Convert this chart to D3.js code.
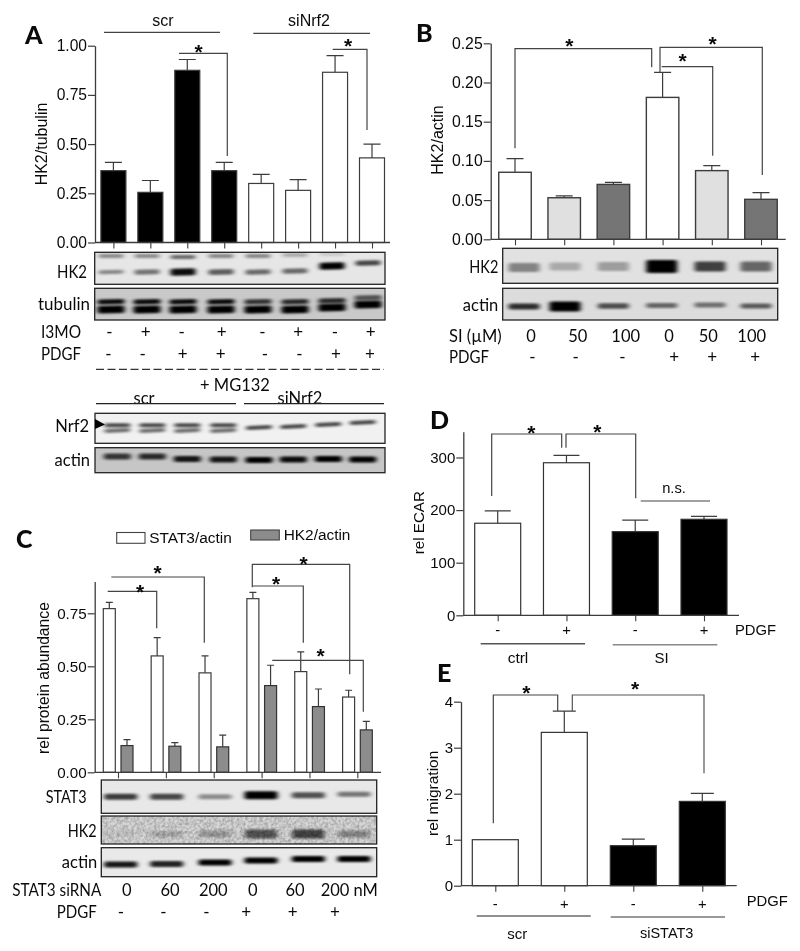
<!DOCTYPE html>
<html><head><meta charset="utf-8">
<script src="https://cdn.jsdelivr.net/npm/d3@7"></script>
<style>
html,body{margin:0;padding:0;background:#fff}
svg{display:block;filter:blur(0.3px)}
.sans{font-family:"Liberation Sans",Arial,sans-serif;fill:#0a0a0a}
.cal{font-family:Lato,"Open Sans",sans-serif;fill:#0a0a0a}
</style></head><body><svg id="c" width="800" height="951"></svg>
<script>
// ---------- DATA ----------
const groupsA = ["scr","scr","scr","scr","siNrf2","siNrf2","siNrf2","siNrf2"];
const valuesA = [0.365,0.255,0.875,0.365,0.30,0.265,0.865,0.43];
const errTopA = [0.407,0.315,0.93,0.407,0.346,0.319,0.95,0.50];
const ticksA  = [0,0.25,0.5,0.75,1];
const i3mo    = ["-","+","-","+","-","+","-","+"];
const pdgfA   = ["-","-","+","+","-","-","+","+"];

const siB     = ["0","50","100","0","50","100"];
const pdgfB   = ["-","-","-","+","+","+"];
const valuesB = [0.0855,0.053,0.070,0.181,0.0876,0.051];
const errTopB = [0.103,0.0553,0.0727,0.213,0.094,0.0595];
const ticksB  = [0,0.05,0.1,0.15,0.2,0.25];

const siC     = ["0","60","200","0","60","200 nM"];
const pdgfC   = ["-","-","-","+","+","+"];
const stat3   = [0.772,0.549,0.469,0.819,0.475,0.355];
const stat3Err= [0.802,0.635,0.549,0.849,0.568,0.387];
const hk2C    = [0.126,0.123,0.12,0.409,0.31,0.20];
const hk2CErr = [0.154,0.14,0.175,0.505,0.393,0.24];
const ticksC  = [0,0.25,0.5,0.75];

const pdgfD   = ["-","+","-","+"];
const valuesD = [175,290,159,182.5];
const errTopD = [198.5,304,181,188];
const ticksD  = [0,100,200,300];

const pdgfE   = ["-","+","-","+"];
const valuesE = [1,3.333,0.87,1.833];
const errTopE = [1,3.797,1.014,2.007];
const ticksE  = [0,1,2,3,4];

// blot band intensities (0..1)
const blotA_HK2up  = [.4,.4,.55,.42,.42,.25,.12,0];
const blotA_HK2lo  = [.42,.5,.95,.6,.55,.55,1,.7];
const blotA_TubUp  = [.95,.95,.95,.95,.75,.8,.8,.6];
const blotA_TubLo  = [1,1,1,1,1,1,1,1];
const blotA_Nrf2up = [.7,.7,.7,.7,0,0,0,0];
const blotA_Nrf2lo = [.55,.55,.55,.55,.7,.7,.7,.7];
const blotA_Actin  = [.75,.8,.9,.9,1,.95,1,1];
const blotB_HK2    = [.42,.25,.3,1,.72,.55];
const blotB_Actin  = [.8,1,.65,.55,.5,.6];
const blotC_STAT3  = [.75,.7,.4,1,.65,.5];
const blotC_HK2    = [.06,.2,.26,.6,.68,.35];
const blotC_Actin  = [.9,.85,1,1,1,1];

// ---------- HELPERS ----------
const svg = d3.select("#c");
const STROKE = "#3c3c3c";
const defs = svg.append("defs");
defs.append("filter").attr("id","bl").attr("x","-20%").attr("y","-200%").attr("width","140%").attr("height","500%")
  .append("feGaussianBlur").attr("stdDeviation","2.5 1.25");
const gr = defs.append("filter").attr("id","grain").attr("x",0).attr("y",0).attr("width","100%").attr("height","100%");
gr.append("feTurbulence").attr("type","fractalNoise").attr("baseFrequency",.35).attr("numOctaves",2).attr("seed",4);
gr.append("feColorMatrix").attr("values","0 0 0 0 0  0 0 0 0 0  0 0 0 0 0  1.3 0 0 0 -.45");

function txt(x,y,s,o={}){
  const t = svg.append("text").attr("class",o.cls||"sans").attr("x",x).attr("y",y).attr("dy",o.dy===undefined?".35em":o.dy)
    .attr("text-anchor",o.a||"middle").attr("font-size",o.fs||15)
    .attr("font-weight",o.w||"normal").text(s);
  if(o.len) t.attr("textLength",o.len).attr("lengthAdjust","spacingAndGlyphs");
  return t;
}
function vtxt(x,y,s,fs){
  return svg.append("text").attr("class","sans").attr("transform",`translate(${x},${y}) rotate(-90)`)
    .attr("text-anchor","middle").attr("dy",".35em").attr("font-size",fs||15.5).text(s);
}
function letter(x,y,s){ txt(x,y,s,{cls:"cal",a:"start",fs:25,w:"900",dy:0}); }
function star(x,y){ txt(x,y+12,"*",{fs:21,w:"bold",dy:0}); }
const lineGen = d3.line();
function poly(pts,c,w){ svg.append("path").attr("d",lineGen(pts)).attr("fill","none").attr("stroke",c||"#444").attr("stroke-width",w||1.2); }
function axes(xs,ys,x0,x1,yt,fmt,fs){
  const gy = svg.append("g").attr("transform",`translate(${x0},0)`)
    .call(d3.axisLeft(ys).tickValues(yt).tickFormat(fmt).tickSize(7).tickSizeOuter(0));
  gy.selectAll("text").attr("class","sans").attr("font-size",fs).attr("x",-8);
  gy.select(".domain").attr("stroke",STROKE).attr("stroke-width",1.3);
  gy.selectAll("line").attr("stroke",STROKE).attr("stroke-width",1.2);
  const base = ys.range()[0];
  poly([[x0,base],[x1,base]],STROKE,1.3);
  const gx = svg.append("g").attr("transform",`translate(0,${base})`)
    .call(d3.axisBottom(xs).tickFormat("").tickSize(6).tickSizeOuter(0));
  gx.select(".domain").remove();
  gx.selectAll("line").attr("stroke",STROKE).attr("stroke-width",1.1);
}
function bars(vals,tops,xf,ys,w,fill,stroke,sw,capW){
  const base = ys.range()[0];
  const g = svg.append("g");
  const rows = vals.map((v,i)=>({i,v,t:tops[i]}));
  g.selectAll("path.e").data(rows.filter(d=>d.t>d.v)).join("path").attr("class","e")
    .attr("d",d=>lineGen([[xf(d.i),ys(d.v)],[xf(d.i),ys(d.t)]])+lineGen([[xf(d.i)-capW/2,ys(d.t)],[xf(d.i)+capW/2,ys(d.t)]]))
    .attr("fill","none").attr("stroke",STROKE).attr("stroke-width",1.2);
  g.selectAll("rect").data(rows).join("rect")
    .attr("x",d=>xf(d.i)-w/2).attr("width",w).attr("y",d=>ys(d.v)).attr("height",d=>base-ys(d.v))
    .attr("fill",d=>fill(d.i)).attr("stroke",d=>stroke?stroke:"#3c3c3c").attr("stroke-width",sw);
}
let clipN = 0;
function blot(o){
  const g = svg.append("g");
  const id = "clip"+(clipN++);
  defs.append("clipPath").attr("id",id).append("rect").attr("x",o.x0).attr("y",o.y0).attr("width",o.x1-o.x0).attr("height",o.y1-o.y0);
  g.append("rect").attr("x",o.x0).attr("y",o.y0).attr("width",o.x1-o.x0).attr("height",o.y1-o.y0).attr("fill",o.bg);
  const inner = g.append("g").attr("clip-path",`url(#${id})`);
  if(o.grain) inner.append("rect").attr("x",o.x0).attr("y",o.y0).attr("width",o.x1-o.x0).attr("height",o.y1-o.y0).attr("filter","url(#grain)").attr("opacity",.22);
  o.bands.forEach(b=>{
    const grp = inner.append("g").attr("filter","url(#bl)");
    grp.selectAll("rect").data(b.v.map((v,i)=>({v,i})).filter(d=>d.v>0)).join("rect")
      .attr("x",d=>o.lanes[d.i]-(b.w||o.w)/2).attr("width",b.w||o.w)
      .attr("y",d=>b.y+(b.off?b.off[d.i]:0)-(b.hs?b.hs[d.i]:b.h)/2)
      .attr("height",d=>b.hs?b.hs[d.i]:b.h).attr("rx",2)
      .attr("transform",d=>b.tilt?`rotate(${b.tilt},${o.lanes[d.i]},${b.y+(b.off?b.off[d.i]:0)})`:null)
      .attr("fill","#000").attr("opacity",d=>d.v);
  });
  if(o.grain) inner.append("rect").attr("x",o.x0).attr("y",o.y0).attr("width",o.x1-o.x0).attr("height",o.y1-o.y0).attr("filter","url(#grain)").attr("opacity",.2);
  g.append("rect").attr("x",o.x0).attr("y",o.y0).attr("width",o.x1-o.x0).attr("height",o.y1-o.y0)
    .attr("fill","none").attr("stroke","#222").attr("stroke-width",1.3);
}
const cal = (x,y,s,a,fs,len)=>txt(x,y,s,{cls:"cal",a:a||"middle",fs:fs||16.5,len});
const signs = (arr,xs,y,o)=>arr.forEach((s,i)=>txt(xs[i],y,s,o||{cls:"cal",fs:17}));

// ---------- PANEL A ----------
{
  const xs = d3.scalePoint().domain(d3.range(8)).range([113.4,372]);
  const ys = d3.scaleLinear().domain([0,1]).range([242.5,45.7]);
  bars(valuesA,errTopA,xs,ys,25,i=>groupsA[i]==="scr"?"#000":"#fff",null,1.2,17);
  axes(xs,ys,95,390,ticksA,d3.format(".2f"),15.6);
  vtxt(41,144,"HK2/tubulin",16);
  letter(25,44,"A");
  txt(163,20.7,"scr",{fs:16}); txt(309,20.7,"siNrf2",{fs:16});
  poly([[104,32.3],[220,32.3]]); poly([[253.3,33.3],[370,33.3]]);
  poly([[179,53.3],[227.3,53.3],[227.3,156]]); star(198.7,47.3);
  poly([[332.7,49.3],[367,49.3],[367,130]]); star(348,41);

  const lanes1=[111,147,183,221,258,295,332,368];
  blot({x0:94.7,x1:385,y0:252.3,y1:284.3,bg:"#e6e6e6",lanes:lanes1,w:25,bands:[
    {y:256,h:4,v:blotA_HK2up,off:[0,0,1,0,0,-1,-2,0]},
    {y:272,hs:[4,5,7,5.5,5,5,7,5],v:blotA_HK2lo,off:[0,0,0,0,0,-1,-6,-9],tilt:-1}]});
  blot({x0:94.7,x1:385,y0:288.3,y1:320,bg:"#c9c9c9",lanes:lanes1,w:27,bands:[
    {y:301.7,h:5,v:blotA_TubUp,off:[0,0,0,0,0,0,-1,-4],tilt:-1},
    {y:309.5,h:7.5,v:blotA_TubLo,off:[0,0,0,0,0,0,-2,-5],tilt:-1}]});
  cal(87,272,"HK2","end",16.5,30); cal(90,304,"tubulin","end",17,52);
  cal(41,332,"I3MO","start",16.5,40); cal(41,354,"PDGF","start",16.5,40);
  signs(i3mo,[109.3,145.7,181.7,221.7,262.3,298.3,335,370.7],332);
  signs(pdgfA,[108.3,142.7,182.7,220.7,265,299.3,336,370],354);
  svg.append("line").attr("x1",96).attr("x2",384).attr("y1",369.3).attr("y2",369.3)
    .attr("stroke","#333").attr("stroke-width",1.2).attr("stroke-dasharray","8 3.5");
  cal(235,385.7,"+ MG132","middle",16.5);
  cal(144,398,"scr"); cal(300,398,"siNrf2");
  poly([[96,403.7],[236,403.7]],"#222",1.3); poly([[244,403.7],[384,403.7]],"#222",1.3);
  const lanes2=[117.3,152.3,187.3,223.3,259,293.3,328.3,362.7];
  blot({x0:95,x1:385,y0:413.3,y1:443.3,bg:"#f1f1f1",lanes:lanes2,w:26,bands:[
    {y:425.3,h:4,v:blotA_Nrf2up},
    {y:430.5,h:4,v:blotA_Nrf2lo,off:[0,0,0,0,-3,-4,-6,-8],tilt:-3}]});
  svg.append("path").attr("d",lineGen([[95,419],[105,424.5],[95,429]])+"Z").attr("fill","#000");
  blot({x0:95,x1:385,y0:447.7,y1:472.7,bg:"#c6c6c6",lanes:lanes2,w:27,bands:[
    {y:459.5,h:6,v:blotA_Actin,off:[-3,-3,-.5,0,.5,0,-.5,0]}]});
  cal(89,426,"Nrf2","end",16.5); cal(90,460,"actin","end",16.5);
}

// ---------- PANEL B ----------
{
  const xs = d3.scalePoint().domain(d3.range(6)).range([515,761]);
  const ys = d3.scaleLinear().domain([0,.25]).range([239.3,43.3]);
  const fills=["#fff","#e0e0e0","#757575"];
  bars(valuesB,errTopB,xs,ys,32.5,i=>fills[i%3],"#3c3c3c",1.4,17);
  axes(xs,ys,490.7,785.7,ticksB,d3.format(".2f"),15.8);
  vtxt(437,140,"HK2/actin",16);
  letter(416,42,"B");
  poly([[515,148.3],[515,48.7],[651.7,48.7],[651.7,67.3]]); star(569.3,41);
  poly([[660,72.3],[660,47.3],[762.3,47.3],[762.3,175]]); star(712.7,39);
  poly([[661.7,66.7],[712.7,66.7],[712.7,155.7]]); star(682.7,55.7);
  const lanes=[524,565,613.3,661.7,710,756];
  blot({x0:502.7,x1:777.7,y0:248.3,y1:283.3,bg:"#e1e1e1",lanes,w:31,bands:[
    {y:266.5,hs:[9,8,9,13,10,10],v:blotB_HK2,off:[1,0,0,0,0,0]}]});
  blot({x0:502.7,x1:777.7,y0:288.3,y1:320,bg:"#dcdcdc",lanes,w:31,bands:[
    {y:306,hs:[6,10,5.5,5,5,5],v:blotB_Actin,off:[.5,.5,0,-.5,-1,0]}]});
  cal(498.3,267,"HK2","end",16.5,29); cal(498.3,305,"actin","end",16.5);
  cal(449,336,"SI (µM)","start",16.5); cal(449,357.3,"PDGF","start",16.5,40);
  signs(siB,[531,577.7,625.7,669,708.3,751.7],336,{cls:"cal",fs:16.5});
  signs(pdgfB,[532.3,575.7,622.3,674.3,712.3,755.3],357.3);
}

// ---------- PANEL C ----------
{
  const xs = d3.scalePoint().domain(d3.range(6)).range([118,357.3]);
  const ys = d3.scaleLinear().domain([0,.9]).range([772.3,581.5]);
  const W = i=>xs(i)-8.7, G = i=>xs(i)+9;
  bars(stat3,stat3Err,W,ys,12,()=>"#fff","#3c3c3c",1.2,7);
  bars(hk2C,hk2CErr,G,ys,12,()=>"#8c8c8c","#333",1.2,7);
  axes(xs,ys,94.7,381,ticksC,d3.format(".2f"),15.2);
  vtxt(43.3,678,"rel protein abundance",15.7);
  letter(16,548,"C");
  svg.append("rect").attr("x",116.7).attr("y",532.5).attr("width",28.3).attr("height",10.8).attr("fill","#fff").attr("stroke","#444").attr("stroke-width",1.1);
  txt(149.3,537.8,"STAT3/actin",{a:"start",fs:15.4});
  svg.append("rect").attr("x",250.7).attr("y",530).attr("width",28.6).attr("height",10).attr("fill","#8c8c8c").attr("stroke","#444").attr("stroke-width",1.1);
  txt(283.7,535,"HK2/actin",{a:"start",fs:15.4});
  poly([[107.7,591.3],[156.7,591.3],[156.7,628.3]]); star(140,586.7);
  poly([[111.3,577],[204.3,577],[204.3,642.7]]); star(157.7,568.3);
  poly([[252.3,587.3],[252.3,564.3],[349.7,564.3],[349.7,674.3]]); star(303.7,559);
  poly([[252.3,586],[303.3,586],[303.3,642.7]]); star(276,579);
  poly([[272.3,660.3],[363.3,660.3],[363.3,711.7]]); star(320.7,651);
  const lanes=[120.7,166.7,215,261,308.3,354];
  blot({x0:101.3,x1:376.7,y0:780,y1:813.3,bg:"#e8e8e8",lanes,w:33,bands:[
    {y:796.7,hs:[6,6,5,8,6,5],v:blotC_STAT3,off:[0,0,0,-1.5,-1.5,-2.5]}]});
  blot({x0:101.3,x1:376.7,y0:816,y1:844,bg:"#d6d6d6",lanes,w:32,grain:true,bands:[
    {y:834,hs:[6,6,7,9,9,7],v:blotC_HK2}]});
  blot({x0:101.3,x1:376.7,y0:847.7,y1:876.7,bg:"#e9e9e9",lanes,w:33,bands:[
    {y:864.5,h:6,v:blotC_Actin,off:[0,-.5,-2,-4,-5.5,-5.5]}]});
  cal(86.7,797,"STAT3","end",16.5,41); cal(96.7,831,"HK2","end",16.5,29); cal(97.3,862.7,"actin","end",16.5);
  cal(12.3,890.7,"STAT3 siRNA","start",16.5,89);
  signs(siC,[126.7,170,213.3,252.7,295,349.3],890.7,{cls:"cal",fs:16.5});
  cal(96.7,912.3,"PDGF","end",16.5,40);
  signs(pdgfC,[121,163.3,206.3,246.3,292.7,335],912.3);
}

// ---------- PANEL D ----------
{
  const xs = d3.scalePoint().domain(d3.range(4)).range([497.7,704]);
  const ys = d3.scaleLinear().domain([0,349]).range([615.3,431.7]);
  bars(valuesD,errTopD,xs,ys,46,i=>i<2?"#fff":"#000","#333",1.2,26);
  axes(xs,ys,463.3,739,ticksD,d3.format("d"),15);
  vtxt(418.3,522.7,"rel ECAR",15.2);
  letter(430,429,"D");
  poly([[491.7,496],[491.7,434],[561.7,434],[561.7,447.7]]); star(531.3,428.3);
  poly([[566,447.7],[566,434],[635.7,434],[635.7,498.3]]); star(597.3,426.7);
  poly([[640.7,501],[710,501]]); txt(674,488.3,"n.s.",{fs:14.7});
  signs(pdgfD,xs.domain().map(xs),630,{fs:14.8});
  txt(735,630,"PDGF",{a:"start",fs:14.8});
  poly([[480.7,643.7],[585,643.7]],"#555",1.5); poly([[612.7,644.7],[717.3,644.7]],"#888",1.5);
  txt(518,658,"ctrl",{fs:15.5}); txt(661.7,658,"SI",{fs:15});
}

// ---------- PANEL E ----------
{
  const xs = d3.scalePoint().domain(d3.range(4)).range([495.3,702.3]);
  const ys = d3.scaleLinear().domain([0,4]).range([885.7,701.7]);
  bars(valuesE,errTopE,xs,ys,46,i=>i<2?"#fff":"#000","#333",1.2,23);
  axes(xs,ys,461,736.7,ticksE,d3.format("d"),15);
  vtxt(432.7,793.3,"rel migration",15.5);
  letter(437,682,"E");
  poly([[493.3,823.3],[493.3,695],[557.7,695],[557.7,711]]); star(526.3,687.7);
  poly([[572.3,711],[572.3,695],[704,695],[704,773.3]],"#555"); star(635,684);
  signs(pdgfE,xs.domain().map(xs),904,{fs:14.8});
  txt(746.7,901,"PDGF",{a:"start",fs:14.8});
  poly([[476.7,916],[590.7,916]],"#222",1.2); poly([[610.7,917],[725,917]],"#777",1.4);
  txt(517.3,933.3,"scr",{fs:15}); txt(666.7,933.3,"siSTAT3",{fs:14.5});
}
</script></body></html>
